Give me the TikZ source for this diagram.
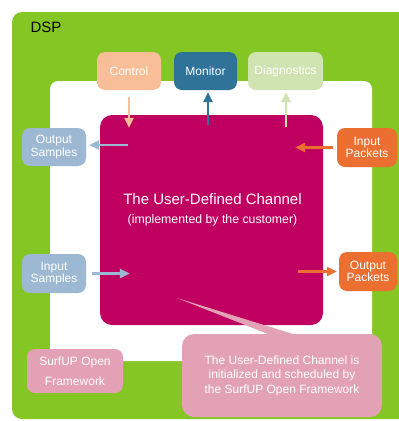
\documentclass[tikz,border=0pt]{standalone}
\usepackage{fontspec}
\setmainfont{Liberation Sans}
\usetikzlibrary{arrows.meta, calc, positioning}

\definecolor{dspgreen}{RGB}{132,198,35}
\definecolor{chan}{RGB}{192,0,96}
\definecolor{peach}{RGB}{248,190,151}
\definecolor{mon}{RGB}{47,115,153}
\definecolor{diag}{RGB}{207,228,177}
\definecolor{samp}{RGB}{157,184,211}
\definecolor{pkt}{RGB}{234,111,48}
\definecolor{note}{RGB}{227,161,182}

\begin{document}
\begin{tikzpicture}[x=1pt, y=-1pt,
  box/.style={rounded corners=8pt, inner sep=0pt, minimum height=38pt,
              text=white, align=center, font=\fontsize{12}{12.5}\selectfont},
  flow/.style={line width=2.5pt, -{Triangle[length=10pt,width=9pt]}}]
\useasboundingbox (0,0) rectangle (399,421);
\clip (0,0) rectangle (399,421);

% frames
\fill[dspgreen, rounded corners=10pt] (12,12) rectangle (430,419);
\fill[white, rounded corners=8pt] (50,81) rectangle (372,361);
\node[anchor=base west, font=\fontsize{15}{15}\selectfont] (dsp) at (27,32) {DSP};

% the channel
\node[fill=chan, rounded corners=12pt, minimum width=223pt, minimum height=210pt,
      inner sep=0pt] (ch) at (211.5,220) {};
\node[anchor=base, text=white, font=\fontsize{15}{15}\selectfont] (title) at (212.5,204)
  {The User-Defined Channel};
\node[anchor=base, text=white, font=\fontsize{12.3}{12.3}\selectfont] (subt)
  at ([yshift=-19pt]title.base) {(implemented by the customer)};

% boxes
\node[box, fill=peach, minimum width=64pt] (ctrl) at (129,71) {Control};
\node[box, fill=mon, minimum width=63pt] (moni) at (205.5,71) {Monitor};
\node[box, fill=diag, minimum width=75pt] (diag) at (285.5,71) {Diagnostics};
\node[box, fill=samp, minimum width=64pt] (osamp) at (54,147) {Output\\Samples};
\node[box, fill=samp, minimum width=64pt, minimum height=39pt] (isamp) at (54,273.5) {Input\\Samples};
\node[box, fill=pkt, minimum width=60pt, minimum height=39pt] (ipkt) at (367,147.5) {Input\\Packets};
\node[box, fill=pkt, minimum width=58pt, minimum height=39pt] (opkt) at (368,271.5) {Output\\Packets};
\node[box, fill=note, minimum width=96pt, minimum height=44pt,
      font=\fontsize{12}{20}\selectfont] (surf) at (75,371) {SurfUP Open\\Framework};

% arrows
\draw[flow, peach] ($(ctrl.south)+(0,7)$) -- ($(ch.north -| ctrl)+(0,13)$);
\draw[flow, mon] ($(ch.north -| moni)+(2.5,10)$) -- ($(moni.south)+(2.5,2)$);
\draw[flow, diag] ($(ch.north -| diag)+(0.5,12)$) -- ($(diag.south)+(0.5,2)$);
\draw[flow, samp] ($(ch.west |- osamp)+(28,-2)$) -- ($(osamp.east)+(3,-2)$);
\draw[flow, samp] ($(isamp.east)+(6,0)$) -- ($(ch.west |- isamp)+(30,0)$);
\draw[flow, pkt] ($(ipkt.west)+(-4,0)$) -- ($(ch.east |- ipkt)+(-28,0)$);
\draw[flow, pkt] ($(ch.east |- opkt)+(-25,0)$) -- ($(opkt.west)+(-2,0)$);

% callout
\node[box, fill=note, rounded corners=12pt, minimum width=200pt, minimum height=83pt,
      font=\fontsize{12}{14.5}\selectfont] (note) at (282,375.5)
  {The User-Defined Channel is\\initialized and scheduled by\\the SurfUP Open Framework};
\coordinate (tip) at (177,298);
\fill[note] (tip) -- ($(note.north)+(-7,3)$) -- ($(note.north)+(20,3)$) -- cycle;
\end{tikzpicture}
\end{document}
